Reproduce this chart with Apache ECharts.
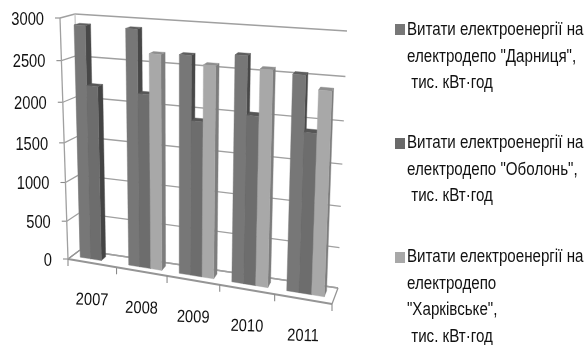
<!DOCTYPE html>
<html><head><meta charset="utf-8">
<style>html,body{margin:0;padding:0;background:#fff}#c{width:584px;height:345px}</style>
<script src="https://cdn.jsdelivr.net/npm/echarts@6/dist/echarts.min.js"></script>
</head><body><div id="c"></div>
<script>
const years = ['2007','2008','2009','2010','2011'];
const darnytsia = [2910, 2910, 2655, 2700, 2535];
const obolon = [2200, 2160, 1900, 2030, 1900];
const kharkivske = [null, 2640, 2560, 2565, 2385];
const valueTicks = [0, 500, 1000, 1500, 2000, 2500, 3000];
const seriesNames = [
  'Витати електроенергії на\nелектродепо "Дарниця",\n тис. кВт·год',
  'Витати електроенергії на\nелектродепо "Оболонь",\n тис. кВт·год',
  'Витати електроенергії на\nелектродепо\n"Харківське",\n тис. кВт·год'
];

const FONT = '"Liberation Sans", sans-serif';
const VMAX = 3000;

// Corners of the 3D plot box on the page: depth 0 is the back wall, depth 1 the front edge.
const box = {
  backTL: [75, 14], backBL: [80, 250], backTR: [347, 31], backBR: [338, 288],
  frontTL: [60, 18], frontBL: [68, 259], frontTR: [343, 37], frontBR: [332, 304]
};
const persp = (t, r) => t / (t + (1 - t) * r);
const mix = (a, b, t) => [a[0] + (b[0] - a[0]) * t, a[1] + (b[1] - a[1]) * t];

// Maps normalised axis positions (u across, v up, d toward the viewer) into the box.
function project(u, v, d) {
  const U = persp(u, 1.11), V = persp(v, 1.075);
  const backBottom = mix(box.backBL, box.backBR, U), backTop = mix(box.backTL, box.backTR, U);
  const frontBottom = mix(box.frontBL, box.frontBR, U), frontTop = mix(box.frontTL, box.frontTR, U);
  return mix(mix(backBottom, backTop, V), mix(frontBottom, frontTop, V), d);
}
// Reads a data position through the cartesian axes and normalises it against the grid.
function toUnit(api, params, cat, value) {
  const cs = params.coordSys, p = api.coord([cat, value]);
  return [(p[0] - cs.x) / cs.width, (cs.y + cs.height - p[1]) / cs.height];
}
const poly = (points, fill) => ({ type: 'polygon', shape: { points }, style: { fill, stroke: fill, lineWidth: 0.4 } });
const seg = (a, b, stroke, lineWidth) => ({ type: 'line', shape: { x1: a[0], y1: a[1], x2: b[0], y2: b[1] }, style: { stroke, lineWidth } });
// Tick labels are set in a condensed width to suit the narrow chart.
const label = (text, x, y, align, size, squeeze, rotation) => ({
  type: 'text', x, y, rotation: rotation || 0, scaleX: squeeze, scaleY: 1,
  style: { text, x: 0, y: 0, fill: '#111111', font: size + 'px ' + FONT, align, verticalAlign: 'middle' }
});

const BAR_START = 0.17, BAR_WIDTH = 0.22, BAR_BACK = 0.27, BAR_FRONT = 0.65;

function barRenderer(slot, colors) {
  return function (params, api) {
    const value = api.value(1);
    if (value == null || isNaN(value)) return;
    const cat = api.value(0);
    const [uc, top] = toUnit(api, params, cat, value);
    const band = 1 / years.length;
    const u0 = uc - band / 2 + band * (BAR_START + BAR_WIDTH * slot);
    const u1 = u0 + band * BAR_WIDTH;
    const fb = project(u0, 0, BAR_FRONT), fbr = project(u1, 0, BAR_FRONT);
    const ft = project(u0, top, BAR_FRONT), ftr = project(u1, top, BAR_FRONT);
    const bbr = project(u1, 0, BAR_BACK), btr = project(u1, top, BAR_BACK), btl = project(u0, top, BAR_BACK);
    return { type: 'group', children: [
      poly([fbr, bbr, btr, ftr], colors.side),
      poly([ft, ftr, btr, btl], colors.top),
      poly([fb, fbr, ftr, ft], colors.front)
    ] };
  };
}

// Walls, floor, gridlines, ticks and tick labels of the box.
function renderGridLine(params, api) {
  const value = api.value(1);
  const [, v] = toUnit(api, params, 0, value);
  const edge = project(0, v, 1);
  return { type: 'group', children: [
    seg(edge, project(0, v, 0), '#a0a0a0', 1.3),
    seg(project(0, v, 0), project(1, v, 0), '#a0a0a0', 1.3),
    seg(edge, [edge[0] - 5, edge[1]], '#8a8a8a', 1.1),
    label(String(value), edge[0] - 16, edge[1] + 2, 'right', 17.5, 0.84)
  ] };
}
function renderFloor(params, api) {
  const cat = api.value(0);
  const [uc] = toUnit(api, params, cat, 0);
  const band = 1 / years.length;
  const tickA = project(uc + band / 2, 0, 1);
  const mid = project(uc, 0, 1);
  const children = [
    seg(tickA, [tickA[0], tickA[1] + 7], '#8a8a8a', 1.1),
    label(years[cat], mid[0], mid[1] + 37, 'center', 17.5, 0.84, -0.03)
  ];
  if (cat === 0) {
    const start = project(0, 0, 1);
    children.push(
      seg(project(0, 0, 1), project(1, 0, 1), '#959595', 1.8),
      seg(project(0, 0, 0), project(1, 0, 0), '#a0a0a0', 1.3),
      seg(project(0, 0, 1), project(0, 0, 0), '#959595', 1.3),
      seg(project(1, 0, 1), project(1, 0, 0), '#959595', 1.3),
      seg(project(0, 0, 1), project(0, 1, 1), '#a0a0a0', 1.3),
      seg(project(0, 0, 0), project(0, 1, 0), '#bdbdbd', 1.1),
      seg(start, [start[0], start[1] + 7], '#8a8a8a', 1.1)
    );
  }
  return { type: 'group', children };
}

const rows = vals => years.map((_, i) => [i, vals[i]]);
const barSeries = (i, vals, colors) => ({
  type: 'custom', name: seriesNames[i], coordinateSystem: 'cartesian2d', clip: false, z: 3 + i,
  itemStyle: { color: colors.legend }, renderItem: barRenderer(i, colors), data: rows(vals),
  encode: { x: 0, y: 1 }
});
const shades = [
  { front: '#777777', side: '#484848', top: '#5e5e5e', legend: '#777777' },
  { front: '#6d6d6d', side: '#444444', top: '#565656', legend: '#6a6a6a' },
  { front: '#a8a8a8', side: '#7d7d7d', top: '#8e8e8e', legend: '#a8a8a8' }
];

// Key on the right: one swatch beside each condensed multi-line entry.
const LINE = 26.6;
const keyTops = [17, 130, 244];
const swatchTops = [24, 138, 252];
const keyElements = seriesNames.flatMap((name, i) => [
  { type: 'rect', shape: { x: 395, y: swatchTops[i], width: 10, height: 11 }, style: { fill: shades[i].legend }, silent: true },
  { type: 'text', x: 407, y: keyTops[i], scaleX: 0.865, silent: true,
    style: { text: name, x: 0, y: 0, fill: '#111111', font: '17.5px ' + FONT, lineHeight: LINE, align: 'left', verticalAlign: 'top' } }
]);

const chart = echarts.init(document.getElementById('c'), null, { renderer: 'canvas' });
chart.setOption({
  animation: false,
  backgroundColor: '#fff',
  grid: { left: 60, top: 20, width: 270, height: 240 },
  xAxis: { type: 'category', data: years, show: false },
  yAxis: { type: 'value', min: 0, max: VMAX, interval: 500, show: false },
  graphic: { elements: keyElements },
  series: [
    { type: 'custom', name: 'grid', coordinateSystem: 'cartesian2d', clip: false, z: 1, silent: true,
      renderItem: renderGridLine, data: valueTicks.map(v => [0, v]), encode: { x: 0, y: 1 } },
    { type: 'custom', name: 'floor', coordinateSystem: 'cartesian2d', clip: false, z: 2, silent: true,
      renderItem: renderFloor, data: years.map((_, i) => [i, 0]), encode: { x: 0, y: 1 } },
    barSeries(0, darnytsia, shades[0]),
    barSeries(1, obolon, shades[1]),
    barSeries(2, kharkivske, shades[2])
  ]
});
</script></body></html>
